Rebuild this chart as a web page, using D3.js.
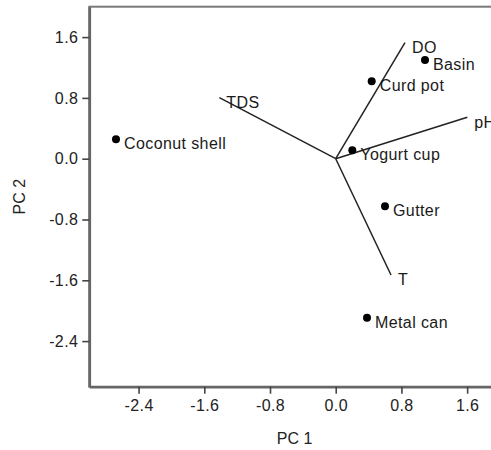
<!DOCTYPE html>
<html>
<head>
<meta charset="utf-8">
<script src="https://cdn.jsdelivr.net/npm/d3@7"></script>
<style>
  html, body { margin: 0; padding: 0; background: #fff; overflow: hidden; }
  text { font-family: "Liberation Sans", Arial, sans-serif; }
</style>
</head>
<body>
<svg id="chart" width="491" height="450"></svg>
<script>
// Sample scores
const samples = ["Coconut shell", "Basin", "Curd pot", "Yogurt cup", "Gutter", "Metal can"];
const samplePC1 = [-2.675, 1.087, 0.438, 0.202, 0.60, 0.381];
const samplePC2 = [0.255, 1.299, 1.018, 0.11, -0.626, -2.092];

// Variable loadings (biplot vectors)
const variables = ["DO", "pH", "TDS", "T"];
const varPC1 = [0.843, 1.602, -1.417, 0.673];
const varPC2 = [1.526, 0.545, 0.803, -1.53];

// Axis ticks
const xTicks = [-2.4, -1.6, -0.8, 0.0, 0.8, 1.6];
const yTicks = [-2.4, -1.6, -0.8, 0.0, 0.8, 1.6];
const xDomain = [-3, 2];
const yDomain = [-3, 2];

const svg = d3.select("#chart");
const pLeft = 89.3, pRight = 500, pTop = 6.7, pBottom = 386.7;

const x = d3.scaleLinear().domain(xDomain).range([pLeft, pRight]);
const y = d3.scaleLinear().domain(yDomain).range([pBottom, pTop]);

const fontSize = 16;

// frame
svg.append("rect")
  .attr("x", pLeft).attr("y", pTop)
  .attr("width", pRight - pLeft).attr("height", pBottom - pTop)
  .attr("fill", "none").attr("stroke", "#7a7a7a").attr("stroke-width", 2);

const fmt = d => d.toFixed(1);

const xAxis = svg.append("g")
  .attr("transform", `translate(0,${pBottom})`)
  .call(d3.axisBottom(x).tickValues(xTicks).tickFormat(fmt).tickSize(7).tickPadding(6).tickSizeOuter(0));
const yAxis = svg.append("g")
  .attr("transform", `translate(${pLeft},0)`)
  .call(d3.axisLeft(y).tickValues(yTicks).tickFormat(fmt).tickSize(7).tickPadding(4).tickSizeOuter(0));

[xAxis, yAxis].forEach(g => {
  g.select(".domain").attr("stroke", "#666").attr("stroke-width", 2.6);
  g.selectAll(".tick line").attr("stroke", "#444").attr("stroke-width", 1.6);
  g.selectAll(".tick text")
    .attr("fill", "#222")
    .style("font-size", fontSize + "px")
    .style("letter-spacing", "0.4px")
    .style("font-family", "'Liberation Sans', Arial, sans-serif");
});

// axis titles
svg.append("text")
  .attr("x", (pLeft + pRight) / 2).attr("y", 444)
  .attr("text-anchor", "middle")
  .attr("fill", "#222")
  .style("font-size", fontSize + "px")
  .text("PC 1");

svg.append("text")
  .attr("transform", `translate(24.5,${(pTop + pBottom) / 2}) rotate(-90)`)
  .attr("text-anchor", "middle")
  .attr("fill", "#222")
  .style("font-size", fontSize + "px")
  .text("PC 2");

const plot = svg.append("g");

// vectors
const vecData = variables.map((v, i) => ({ name: v, pc1: varPC1[i], pc2: varPC2[i] }));
plot.selectAll("line.vec").data(vecData).enter().append("line")
  .attr("class", "vec")
  .attr("x1", x(0)).attr("y1", y(0))
  .attr("x2", d => x(d.pc1)).attr("y2", d => y(d.pc2))
  .attr("stroke", "#222").attr("stroke-width", 1.5);

plot.selectAll("text.vlab").data(vecData).enter().append("text")
  .attr("class", "vlab")
  .attr("x", d => x(d.pc1) + 7).attr("y", d => y(d.pc2) + 10.5)
  .attr("fill", "#1a1a1a")
  .style("font-size", fontSize + "px")
  .style("letter-spacing", "0.4px")
  .text(d => d.name);

// sample points
const ptData = samples.map((s, i) => ({ name: s, pc1: samplePC1[i], pc2: samplePC2[i] }));
plot.selectAll("circle.pt").data(ptData).enter().append("circle")
  .attr("class", "pt")
  .attr("cx", d => x(d.pc1)).attr("cy", d => y(d.pc2))
  .attr("r", 4).attr("fill", "#000");

plot.selectAll("text.plab").data(ptData).enter().append("text")
  .attr("class", "plab")
  .attr("x", d => x(d.pc1) + 8).attr("y", d => y(d.pc2) + 10)
  .attr("fill", "#1a1a1a")
  .style("font-size", fontSize + "px")
  .style("letter-spacing", "0.4px")
  .text(d => d.name);
</script>
</body>
</html>
